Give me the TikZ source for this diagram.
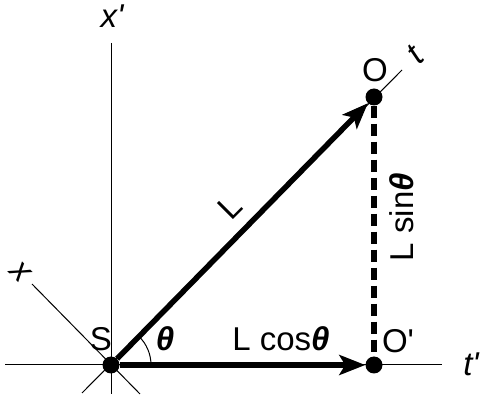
\documentclass[tikz,border=0pt]{standalone}
\usepackage{fontspec}
\setmainfont{Liberation Sans}
\usetikzlibrary{arrows.meta}
\begin{document}
\begin{tikzpicture}[x=1pt,y=1pt,
    axis/.style={line width=1pt},
    dot/.style={circle,fill,inner sep=0pt,minimum size=17pt},
    vec/.style={line width=5.5pt,-{Stealth[length=26pt,width=20pt,inset=6pt]}},
    lbl/.style={inner sep=0pt,font=\fontsize{33}{37}\selectfont}]
\useasboundingbox (0,0) rectangle (480,402);
% axes
\coordinate (xpT) at (111,359);
\coordinate (xpB) at (111,8);
\coordinate (tpL) at (5,37);
\coordinate (tpR) at (442,37);
\coordinate (tB) at (82,9);
\coordinate (tT) at (402,332);
\coordinate (xT) at (32,118);
\coordinate (xB) at (140,8);
\draw[axis] (xpT) -- (xpB);
\draw[axis] (tpL) -- (tpR);
\draw[axis] (tB) -- (tT);
\draw[axis] (xT) -- (xB);
% points
\node[dot] (S) at (111,37){};
\node[dot] (O) at (374,305){};
\node[dot] (Op) at (374,37){};
\draw[vec] (S) -- (O);
\draw[vec] (S) -- (Op);
\draw[line width=5.5pt,dash pattern=on 12pt off 6pt] (O) -- (Op);
\draw[axis] (S.center) ++(40,0) arc[start angle=0,end angle=45.5,radius=40];
% labels
\node[lbl] (lxp) at (112,386){\itshape x\textquotesingle};
\node[lbl] (ltp) at (471,38){\itshape t\textquotesingle};
\node[lbl] (lt) at (415,347)[rotate=45]{\itshape t};
\node[lbl] (lx) at (20,130)[rotate=-45]{\itshape x};
\node[lbl] (lO) at (375,332){O};
\node[lbl] (lOp) at (398,61){O\textquotesingle};
\node[lbl] (lS) at (101,63){S};
\node[lbl] (lth) at (165,63){\bfseries\itshape θ};
\node[lbl] (lL) at (230,195)[rotate=45]{L};
\node[lbl] (lsin) at (402,185)[rotate=90]{L sin{\bfseries\itshape θ}};
\node[lbl] (lcos) at (281,63){L cos{\bfseries\itshape θ}};
\end{tikzpicture}
\end{document}
